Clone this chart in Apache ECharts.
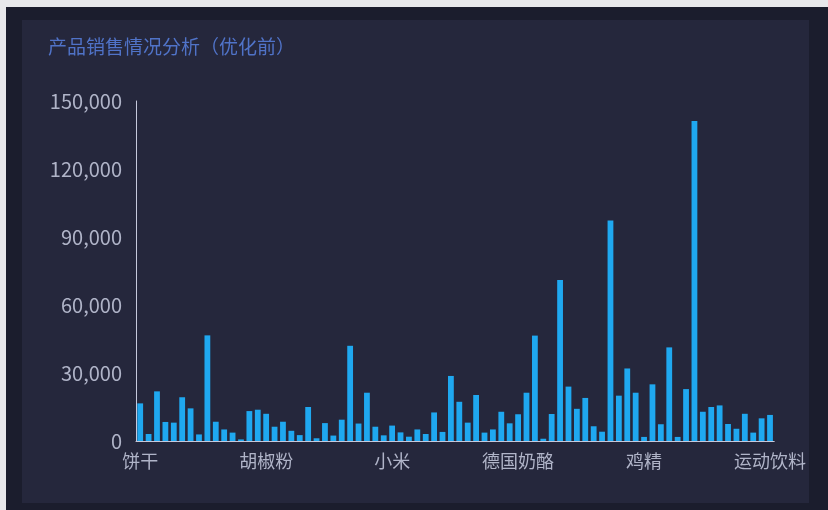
<!DOCTYPE html>
<html>
<head>
<meta charset="utf-8">
<title>产品销售情况分析</title>
<script src="https://cdn.jsdelivr.net/npm/echarts@6/dist/echarts.min.js"></script>
<style>
  html, body { margin: 0; padding: 0; width: 828px; height: 510px; overflow: hidden; background: #e8e8eb; }
  .frame { position: absolute; left: 6px; top: 7px; right: 0; bottom: 0; background: #1b1d2d; }
  .vm-panel { position: absolute; left: 22px; top: 20px; width: 787px; height: 483px; background: #25273c; }
  #chart { width: 787px; height: 483px; }
</style>
</head>
<body>
<div class="frame"></div>
<div class="vm-panel">
  <div id="chart"></div>
</div>
<script>
  // product names (x axis)
  var categories = [
    '饼干', '苹果汁', '牛奶', '蕃茄酱', '盐', '麻油', '酱油', '海鲜粉', '鸡', '蟹',
    '大众奶酪', '龙虾', '沙茶', '味精', '猪肉', '胡椒粉', '墨鱼', '糖果', '桂花糕', '花生',
    '糯米', '燕麦', '汽水', '巧克力', '棉花糖', '牛肉干', '烤肉酱', '鸭肉', '黄鱼', '温馨奶酪',
    '小米', '白奶酪', '浪花奶酪', '啤酒', '蜜桃汁', '鱿鱼', '干贝', '绿茶', '虾米', '虾子',
    '糙米', '柳橙汁', '蚝油', '雪鱼', '蚵', '德国奶酪', '蛋糕', '玉米片', '薯条', '玉米饼',
    '猪肉干', '三合一麦片', '盐水鸭', '鸡肉', '白米', '海参', '苏澳奶酪', '花奶酪', '海鲜酱', '山渣片',
    '鸡精', '甜辣酱', '黄豆', '海苔酱', '肉松', '矿泉水', '绿豆糕', '黑奶酪', '苏打水', '意大利奶酪',
    '酸奶酪', '海哲皮', '浓缩咖啡', '柠檬汁', '辣椒粉', '运动饮料'
  ]
  // sales per product
  var salesValues = [
    16600, 3100, 21900, 8400, 8100, 19300, 14400, 2900, 46600, 8500,
    5100, 3700, 700, 13200, 13800, 12000, 6300, 8500, 4500, 2600,
    15000, 1200, 7900, 2400, 9400, 42000, 7700, 21300, 6300, 2500,
    6800, 3800, 1900, 5100, 3100, 12600, 4000, 28700, 17300, 8100,
    20300, 3700, 5100, 12900, 7800, 11800, 21300, 46500, 1000, 11900,
    71000, 24000, 14200, 19000, 6500, 4100, 97300, 20000, 32000, 21300,
    1800, 25000, 7400, 41300, 1800, 22900, 141200, 12900, 15000, 15700,
    7500, 5400, 12000, 3700, 10000, 11500
  ]
  // y axis range
  var yMin = 0
  var yMax = 150000
  var yStep = 30000

  var axisColor = '#c6c9dc'
  var labelColor = '#b0b4c8'
  var fontFamily = '"Noto Sans CJK SC", "Noto Sans", sans-serif'

  var chart = echarts.init(document.getElementById('chart'))
  chart.setOption({
    title: {
      text: '产品销售情况分析（优化前）',
      left: 21,
      top: 12,
      textStyle: { color: '#5073c8', fontSize: 19, fontWeight: 'normal', fontFamily: fontFamily }
    },
    grid: { left: 114, right: 32, top: 81, bottom: 62 },
    xAxis: {
      type: 'category',
      data: categories,
      axisLine: { lineStyle: { color: axisColor } },
      axisTick: { show: false },
      axisLabel: { interval: 14, color: labelColor, fontSize: 18, margin: 11, fontFamily: fontFamily }
    },
    yAxis: {
      type: 'value',
      min: yMin,
      max: yMax,
      interval: yStep,
      axisLine: { show: true, lineStyle: { color: axisColor } },
      axisTick: { show: false },
      splitLine: { show: false },
      axisLabel: { color: labelColor, fontSize: 20, margin: 14, fontFamily: fontFamily }
    },
    series: [{
      name: '销售额',
      type: 'bar',
      data: salesValues,
      itemStyle: { color: '#1fa8f0' }
    }]
  })
</script>
</body>
</html>
